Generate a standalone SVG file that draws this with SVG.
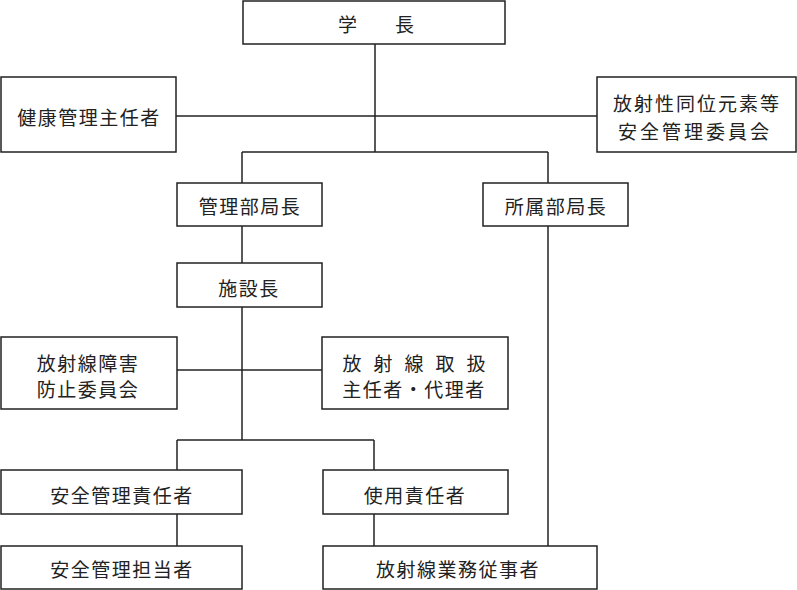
<svg xmlns="http://www.w3.org/2000/svg" width="797" height="590" viewBox="0 0 797 590">
<style>
rect{fill:#fff;stroke:#222;stroke-width:1.5}
.c line{stroke:#222;stroke-width:1.5}
text{font-family:"Noto Sans CJK JP","Noto Sans CJK SC",sans-serif;font-size:19px;fill:#222;text-anchor:middle;dominant-baseline:central;letter-spacing:1.5px}
</style>
<rect x="0" y="0" width="797" height="590" style="stroke:none"/>
<g class="c" id="connectors">
<line x1="375" y1="44" x2="375" y2="152"/>
<line x1="176" y1="116" x2="597" y2="116"/>
<line x1="242" y1="152" x2="548" y2="152"/>
<line x1="242" y1="152" x2="242" y2="183"/>
<line x1="548" y1="152" x2="548" y2="183"/>
<line x1="242" y1="226" x2="242" y2="263"/>
<line x1="242" y1="307" x2="242" y2="440"/>
<line x1="177" y1="370" x2="322" y2="370"/>
<line x1="548" y1="226" x2="548" y2="546"/>
<line x1="177" y1="440" x2="374" y2="440"/>
<line x1="177" y1="440" x2="177" y2="470"/>
<line x1="374" y1="440" x2="374" y2="470"/>
<line x1="177" y1="514" x2="177" y2="546"/>
<line x1="374" y1="514" x2="374" y2="546"/>
</g>
<g id="gakucho"><rect x="243" y="1" width="262" height="43"/><text x="376" y="23" style="letter-spacing:0">学　　長</text></g>
<g id="kenko"><rect x="1" y="77" width="175" height="75"/><text x="89" y="116">健康管理主任者</text></g>
<g id="iinkai1"><rect x="597" y="77" width="199" height="75"/><text x="697" y="102" style="letter-spacing:2px">放射性同位元素等</text><text x="695" y="130" style="letter-spacing:3px">安全管理委員会</text></g>
<g id="kanri"><rect x="177" y="183" width="145" height="43"/><text x="250" y="205">管理部局長</text></g>
<g id="shozoku"><rect x="483" y="183" width="145" height="43"/><text x="556" y="205">所属部局長</text></g>
<g id="shisetsu"><rect x="177" y="263" width="145" height="44"/><text x="249" y="287">施設長</text></g>
<g id="shogai"><rect x="1" y="337" width="176" height="72"/><text x="88" y="362">放射線障害</text><text x="88" y="388">防止委員会</text></g>
<g id="toriatsukai"><rect x="322" y="337" width="186" height="72"/><text x="420" y="362" style="letter-spacing:12px">放射線取扱</text><text x="414" y="388">主任者・代理者</text></g>
<g id="anzen1"><rect x="1" y="470" width="241" height="44"/><text x="122" y="494">安全管理責任者</text></g>
<g id="shiyo"><rect x="323" y="470" width="185" height="44"/><text x="415" y="494">使用責任者</text></g>
<g id="anzen2"><rect x="1" y="546" width="241" height="43"/><text x="122" y="568">安全管理担当者</text></g>
<g id="jujisha"><rect x="323" y="546" width="274" height="43"/><text x="458" y="568">放射線業務従事者</text></g>
</svg>
